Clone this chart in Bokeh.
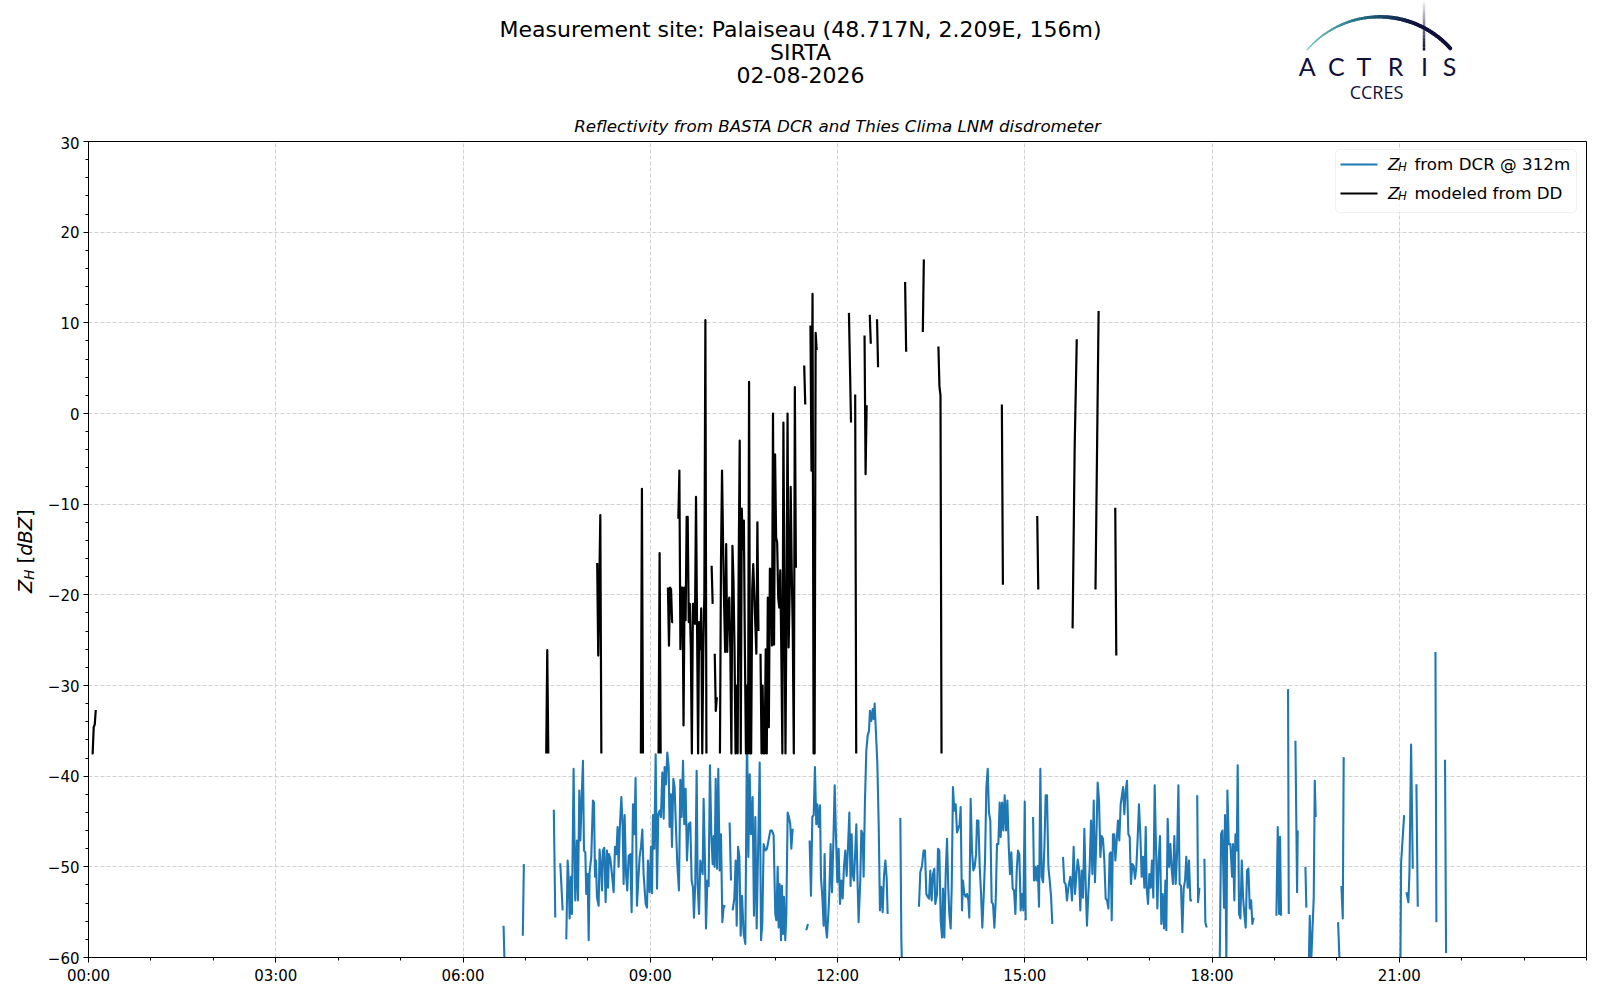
import math
import numpy as np
from bokeh.plotting import figure
from bokeh.layouts import gridplot
from bokeh.models import Range1d, FixedTicker, Label, BoxAnnotation
from bokeh.core.properties import value
from bokeh.embed import file_html
from bokeh.resources import INLINE

NAN = float("nan")

# ---------------- data (minutes since 00:00 UTC, dBZ) ----------------
dcr_minute = [
    399.0, 400.0, NAN,
    417.5, 418.5, NAN,
    447.3, 448.7, NAN,
    453.5, 455.8, NAN,
    459.3, 460.6, 461.5, 462.5, 463.8, 464.7, 466.3, 467.9, 469.5, 470.5,
    471.8, 472.8, 474.4, 475.3, 476.3, 477.6, 478.5, 479.8, 480.8, 481.7,
    483.3, 484.9, 485.9, 486.9, 487.8, 488.8, 490.4, 491.3, 492.6, 493.6,
    494.5, 495.8, 497.1, 498.4, 499.4, 500.3, 501.6, 503.2, 504.8, 506.1,
    507.4, 508.6, 509.6, 510.9, 512.2, 513.5, 514.4, 515.4, 516.7, 517.9,
    519.2, 520.8, 522.1, 523.4, 524.7, 525.9, 527.2, 528.5, 529.8, 531.1,
    532.4, 533.6, 535.6, 536.9, 537.8, 539.4, 540.7, 541.7, 542.6, 543.9,
    545.2, 546.5, 547.7, 549.0, 550.3, 551.6, 552.9, 553.8, 555.1, 556.4,
    557.7, 558.6, 559.9, 560.9, 562.2, 563.4, 564.7, 566.0, 567.6, 568.9,
    570.2, 571.5, 572.7, 574.0, 575.3, 576.9, 578.5, 579.8, 581.1, 582.0,
    583.3, 584.6, 585.6, 586.9, 588.1, 589.1, 590.4, 591.3, 592.6, 593.6,
    594.9, 596.1, 597.4, 598.7, 600.0, 601.0, 601.9, 602.9, 604.2, 605.4,
    606.7, 608.0, 609.3, 610.6, 612.2, NAN,
    616.3, 617.6, NAN,
    619.2, 620.8, 622.1, 623.1, 624.4, 625.7, 626.9, 628.2, 629.8, 631.4,
    633.0, 634.3, 635.6, 636.8, 638.4, 639.7, 641.0, 642.3, 643.6, 645.2,
    646.5, 647.7, 649.0, 650.6, 652.2, 655.4, 657.0, 658.6, 659.2, 660.2,
    661.2, 662.5, 663.4, 664.4, 665.7, 666.6, 667.6, 668.5, 669.8, 670.8,
    672.1, 673.3, 674.6, 675.6, 676.9, NAN,
    690.0, 691.6, NAN,
    693.2, 694.5, 695.8, 697.1, 698.3, 699.6, 700.6, 701.9, 703.2, 704.1,
    705.4, 706.7, 707.6, 708.9, 709.9, 711.2, 712.1, 713.4, 714.7, 716.0,
    717.3, 718.5, 719.8, 721.1, 722.4, 723.7, 725.0, 726.2, 727.5, 728.8,
    730.1, 731.4, 732.6, 733.6, 734.6, 735.8, 737.1, 738.1, 739.4, 740.3,
    741.9, 742.9, 744.2, 745.1, 746.4, 747.7, 749.0, 750.3, 751.2, 752.5,
    753.8, 754.8, 755.7, 757.0, 758.3, 759.6, 760.8, 762.1, 763.4, 764.7,
    766.0, 767.3, 768.2, NAN,
    780.4, 781.4, 782.0, NAN,
    798.3, 799.6, 801.2, 802.8, 804.1, 805.4, 806.7, 808.0, 809.2, 810.5,
    811.8, 813.1, 814.0, 815.7, 816.6, 817.9, 819.2, 820.5, 821.4, 822.7,
    824.0, 825.3, 826.5, 827.5, 828.8, 829.8, 831.0, 832.3, 833.6, 834.9,
    836.2, 837.4, 838.4, 839.7, 840.6, 841.9, 843.2, 844.5, 845.8, 846.7,
    848.0, 849.3, 850.6, 851.9, 853.2, 854.1, 855.4, 856.7, 858.0, 859.2,
    860.5, 861.8, 863.1, 864.4, 865.6, 866.9, 868.2, 869.5, 870.8, 872.1,
    873.3, 874.6, 875.9, 876.9, 878.2, 879.4, 880.7, 882.0, 883.3, 884.6,
    885.8, 887.1, 888.4, 889.7, 891.0, 892.3, 893.5, 894.8, 896.1, 897.4,
    898.7, 900.0, 900.9, NAN,
    908.0, 908.9, 910.2, 911.2, 912.5, 913.7, 915.0, 916.3, 917.6, 918.9,
    920.1, 921.4, 922.7, 924.0, 925.3, 926.5, NAN,
    936.8, 938.0, 939.3, 940.6, 941.9, 943.8, 945.4, 947.0, 948.3, 949.6,
    950.9, 952.1, 953.4, 954.7, 956.0, 957.3, 958.6, 959.8, 961.1, 962.4,
    963.7, 965.0, 966.3, 967.5, 968.8, 970.1, 971.4, 972.7, 973.9, 975.2,
    976.5, 977.8, 979.1, 980.4, 981.6, 982.6, 983.6, 984.8, 986.1, 987.1,
    988.4, 989.6, 990.9, 992.2, 993.2, 994.5, 995.7, 997.0, 998.3, 999.6,
    1000.9, 1002.1, 1003.4, 1004.7, 1006.0, 1007.3, 1008.6, 1009.8, 1011.1, 1012.4,
    1013.7, 1015.0, 1016.3, 1017.2, 1018.5, 1019.8, 1021.1, 1022.3, 1023.6, 1024.9,
    1026.2, 1027.5, 1028.7, 1030.0, 1031.3, 1032.6, 1033.9, 1035.2, 1036.1, 1037.4,
    1038.7, 1040.0, 1041.2, 1042.5, 1043.8, 1045.1, 1046.4, 1047.7, 1048.9, 1050.2,
    1051.5, 1052.8, 1054.1, 1055.3, 1056.6, 1057.9, 1059.2, 1060.8, NAN,
    1065.8, 1066.6, 1067.9, NAN,
    1072.7, 1073.6, 1074.9, NAN,
    1087.4, 1088.7, 1090.0, 1091.6, 1092.5, 1093.8, 1094.8, 1096.1, 1097.7, 1099.3,
    1100.2, 1101.5, 1102.5, 1103.8, 1104.7, 1106.0, 1107.3, 1108.6, 1109.9, 1111.1,
    1112.4, 1113.7, 1115.0, 1116.3, 1117.6, 1118.8, 1120.1, NAN,
    1141.9, 1143.2, 1144.5, 1145.4, 1146.4, NAN,
    1153.1, 1153.8, NAN,
    1160.2, 1161.8, 1162.4, NAN,
    1169.8, 1170.7, NAN,
    1173.0, 1174.0, 1175.2, 1177.8, 1178.8, 1179.7, NAN,
    1201.2, 1202.8, NAN,
    1204.4, 1205.7, 1206.6, NAN,
    1261.1, 1261.8, 1264.7, NAN,
    1266.9, 1268.8, 1269.8, 1271.4, 1273.0, NAN,
    1276.5, 1277.8, NAN,
    1294.8, 1295.7, NAN,
    1304.0, 1305.0,
]
dcr_dbz = [
    -56.5, -61.0, NAN,
    -57.6, -49.7, NAN,
    -43.7, -55.6, NAN,
    -49.6, -54.8, NAN,
    -58.0, -49.3, -51.1, -55.7, -51.1, -55.2, -39.2, -53.7, -47.1, -53.7,
    -41.6, -47.1, -41.4, -38.3, -48.2, -48.4, -53.0, -50.8, -58.1, -50.6,
    -48.9, -42.7, -42.9, -51.1, -49.3, -53.4, -54.3, -48.1, -50.0, -52.6,
    -48.2, -47.9, -53.9, -48.2, -52.3, -48.6, -49.1, -50.8, -52.8, -47.8,
    -48.6, -45.6, -50.0, -45.3, -42.3, -45.6, -51.9, -44.3, -50.8, -52.6,
    -48.8, -48.6, -55.0, -43.1, -46.4, -40.2, -54.3, -51.5, -48.9, -47.8,
    -45.9, -50.8, -54.1, -54.5, -49.3, -52.8, -47.8, -52.9, -44.3, -48.0,
    -37.6, -52.4, -44.2, -43.8, -44.5, -39.6, -44.7, -39.0, -40.9, -37.4,
    -39.0, -45.6, -42.0, -47.8, -40.3, -41.2, -45.6, -49.7, -52.6, -40.4,
    -44.5, -38.3, -45.3, -41.4, -49.3, -45.3, -45.1, -51.5, -52.3, -55.6,
    -51.7, -39.4, -52.1, -55.2, -49.3, -50.0, -50.8, -42.5, -49.3, -56.8,
    -51.5, -52.1, -38.8, -46.4, -49.7, -46.6, -50.0, -40.3, -50.2, -39.2,
    -50.4, -46.4, -56.1, -54.3, -54.4, NAN,
    -45.1, -51.5, NAN,
    -54.8, -53.5, -49.3, -56.5, -47.8, -48.9, -57.6, -53.2, -57.4, -58.5,
    -35.0, -48.9, -39.8, -46.4, -42.3, -55.4, -44.5, -56.8, -48.6, -38.5,
    -58.1, -56.3, -47.5, -48.2, -48.0, -46.0, -46.0, -46.5, -50.0, -55.2,
    -55.9, -50.0, -56.7, -51.9, -58.1, -52.1, -57.4, -53.3, -58.1, -55.2,
    -44.0, -44.5, -45.3, -48.0, -45.8, NAN,
    -57.0, -56.3, NAN,
    -47.1, -53.2, -44.5, -44.3, -39.0, -45.3, -43.1, -45.6, -43.2, -51.1,
    -53.3, -56.5, -48.6, -56.8, -57.8, -55.2, -53.0, -47.5, -52.8, -47.3,
    -41.0, -46.5, -51.7, -48.0, -54.1, -51.5, -53.5, -50.0, -48.2, -51.0,
    -47.8, -44.0, -52.1, -46.4, -50.8, -51.5, -48.2, -45.3, -52.2, -56.1,
    -51.5, -46.0, -46.4, -51.1, -42.7, -37.2, -35.5, -35.0, -32.8, -33.9,
    -32.6, -33.7, -32.0, -35.3, -38.6, -45.3, -54.8, -52.2, -55.0, -51.0,
    -49.3, -51.3, -55.2, NAN,
    -44.6, -58.1, -61.0, NAN,
    -54.4, -50.6, -49.9, -48.2, -48.2, -53.0, -53.3, -53.5, -50.4, -53.7,
    -50.8, -50.2, -54.1, -53.0, -48.0, -48.2, -55.9, -57.8, -52.4, -57.8,
    -50.8, -46.9, -52.4, -55.2, -56.8, -52.2, -41.2, -43.8, -43.1, -46.2,
    -45.8, -45.3, -43.4, -54.8, -51.5, -53.0, -53.3, -53.0, -53.7, -55.6,
    -42.5, -48.2, -50.4, -50.0, -48.6, -44.9, -44.9, -50.0, -53.0, -56.7,
    -53.3, -49.3, -41.2, -39.2, -44.0, -44.9, -53.9, -54.1, -56.7, -53.7,
    -47.5, -47.5, -42.9, -46.7, -42.9, -46.0, -42.1, -46.0, -42.7, -47.7,
    -50.8, -48.4, -52.4, -52.6, -55.2, -50.4, -48.2, -48.6, -54.8, -53.0,
    -54.8, -42.8, -55.9, NAN,
    -44.5, -51.5, -50.0, -51.5, -49.9, -54.4, -39.2, -51.1, -51.7, -47.8,
    -42.1, -42.1, -50.0, -51.5, -53.3, -56.3, NAN,
    -48.9, -51.7, -51.9, -53.7, -52.3, -51.1, -53.7, -47.8, -53.0, -50.9,
    -49.2, -50.2, -54.8, -50.4, -53.4, -45.8, -52.1, -56.5, -53.0, -50.0,
    -44.9, -50.8, -42.7, -51.7, -47.1, -40.7, -42.7, -48.9, -46.6, -46.9,
    -49.3, -53.5, -53.7, -54.6, -48.6, -48.4, -55.9, -46.4, -46.4, -49.3,
    -47.1, -44.9, -47.1, -43.1, -42.3, -41.2, -44.2, -41.6, -40.5, -46.4,
    -46.7, -51.9, -49.7, -49.9, -51.3, -50.0, -46.7, -43.1, -46.4, -51.1,
    -48.9, -52.3, -45.6, -52.3, -54.1, -50.8, -52.3, -49.3, -53.4, -41.0,
    -48.0, -54.6, -49.3, -46.6, -56.3, -53.0, -56.8, -51.5, -57.0, -44.7,
    -50.0, -47.5, -50.2, -51.9, -46.6, -51.9, -48.6, -41.0, -51.9, -52.1,
    -57.2, -52.4, -51.5, -48.9, -52.3, -49.3, -53.7, -53.7, NAN,
    -42.1, -53.9, -52.3, NAN,
    -49.1, -56.1, -56.7, NAN,
    -61.0, -46.4, -46.0, -54.5, -44.3, -60.5, -41.6, -47.5, -47.5, -51.1,
    -47.5, -53.7, -46.4, -48.2, -38.8, -55.2, -55.7, -49.3, -53.4, -55.2,
    -56.7, -50.4, -50.2, -54.6, -53.7, -56.3, -55.6, NAN,
    -55.4, -45.6, -55.2, -46.7, -55.4, NAN,
    -30.4, -55.2, NAN,
    -36.1, -52.8, -46.0, NAN,
    -50.0, -54.5, NAN,
    -61.0, -55.4, -61.0, -53.4, -40.5, -44.5, NAN,
    -56.1, -61.0, NAN,
    -52.1, -55.7, -37.9, NAN,
    -61.0, -49.5, -44.3, NAN,
    -52.8, -53.9, -50.6, -36.5, -50.2, NAN,
    -40.9, -54.4, NAN,
    -26.3, -56.1, NAN,
    -38.2, -59.5,
]

dd_minute = [
    3, 4, 5, 6, 7, NAN,
    440, 441, 442, NAN,
    489, 490, 492, 493, NAN,
    531, 532, 533, NAN,
    548, 549, 550, NAN,
    557, 558, 559, 560, 561, 562, NAN,
    567, 568, 569, 570, 571, 572, 573, 574, 575, 576,
    577, 578, 579, 580, 581, 582, 583, 584, 585, 586,
    587, 588, 589, 590, 591, 592, 593, 594, NAN,
    599, 600, NAN,
    602, 603, 604, NAN,
    607, 608, 609, 610, 611, 612, 613, 614, 615, 616,
    617, 618, 619, 620, 621, 622, 623, 624, 625, 626,
    627, 628, 629, 630, 631, 632, 633, 634, 635, 636,
    637, 638, 639, 640, 641, 642, 643, 644, NAN,
    646, 647, 648, 649, 650, 651, 652, 653, 654, 655,
    656, 657, 658, 659, 660, 661, 662, 663, 664, 665,
    666, 667, 668, 669, 670, 671, 672, 673, 674, 675,
    676, 677, 678, 679, 680, NAN,
    688, 689, NAN,
    694, 695, 696, 697, 698, 699, 700, NAN,
    731, 733, NAN,
    737, 738, NAN,
    746, 747, 748, NAN,
    751, 752, NAN,
    758, 759, NAN,
    785, 786, NAN,
    802, 803, NAN,
    817, 818, 819, 820, NAN,
    878, 879, NAN,
    912, 913, NAN,
    946, 948, 950, NAN,
    968, 971, NAN,
    987, 988,
]
dd_dbz = [
    -37.5, -37.5, -34.6, -34.3, -32.7, NAN,
    -37.5, -26.1, -37.5, NAN,
    -16.5, -26.7, -11.2, -37.5, NAN,
    -37.5, -8.3, -37.5, NAN,
    -37.5, -15.4, -37.5, NAN,
    -19.2, -25.6, -19.2, -19.4, -23.0, -23.0, NAN,
    -11.6, -6.3, -26.0, -19.2, -19.2, -34.4, -19.2, -22.8, -11.4, -11.4,
    -23.0, -21.0, -25.8, -37.5, -21.0, -21.0, -23.2, -9.2, -23.4, -37.5,
    -23.0, -26.0, -21.5, -37.5, -26.3, -20.0, 10.3, -37.5, NAN,
    -16.8, -21.0, NAN,
    -26.5, -32.8, -31.3, NAN,
    -37.5, -16.2, -6.3, -14.2, -21.0, -26.3, -14.4, -26.3, -21.0, -20.3,
    -26.3, -37.5, -14.6, -18.4, -26.0, -37.5, -30.0, -37.5, -17.0, -3.0,
    -37.5, -10.5, -15.0, -11.8, -26.5, -37.5, -30.0, -37.5, 3.5, -37.5,
    -37.5, -19.5, -16.6, -20.0, -23.2, -26.5, -12.0, -24.0, NAN,
    -26.5, -37.5, -30.0, -37.5, -37.5, -26.0, -37.5, -20.3, -34.6, -17.1,
    -17.3, -25.6, 0.0, -25.5, -4.5, -13.7, -14.2, -20.3, -21.4, -17.3,
    -26.3, -37.5, -1.0, -20.0, -37.5, -19.9, 0.0, -25.8, -19.9, -8.1,
    -17.3, -24.0, -37.5, 2.9, -17.0, NAN,
    5.3, 1.0, NAN,
    9.7, -6.3, 13.2, -37.5, -37.5, 8.9, 7.0, NAN,
    11.1, -1.0, NAN,
    2.1, -37.5, NAN,
    8.6, -6.7, 0.9, NAN,
    10.9, 7.7, NAN,
    10.4, 5.1, NAN,
    14.5, 6.8, NAN,
    9.0, 17.0, NAN,
    7.4, 3.0, 2.0, -37.5, NAN,
    1.0, -18.9, NAN,
    -11.3, -19.4, NAN,
    -23.7, -3.7, 8.2, NAN,
    -19.4, 11.3, NAN,
    -10.4, -26.7,
]

x_tick_hours = [0, 3, 6, 9, 12, 15, 18, 21]
x_tick_labels = ["00:00", "03:00", "06:00", "09:00", "12:00", "15:00", "18:00", "21:00"]
x_minor_hours = list(range(0, 25))
y_tick_values = [-60, -50, -40, -30, -20, -10, 0, 10, 20, 30]
y_minor_values = list(range(-60, 31, 2))

title_lines = ["Measurement site: Palaiseau (48.717N, 2.209E, 156m)", "SIRTA", "02-08-2026"]
subtitle = "Reflectivity from BASTA DCR and Thies Clima LNM disdrometer"
legend_rest = ["from DCR @ 312m", "modeled from DD"]

BLUE = "#1f77b4"
NAVY = "#10103a"
FONT = "DejaVu Sans"

# ---------------- page geometry (page origin = top-left of the page) ----------------
PAGE_W, PAGE_H = 1600, 1000
YLAB_W = 40                      # column holding the y-axis title
HEAD_H = 136                     # row holding titles and logo
TOP_PAD = 5                      # room above the frame inside the main plot
FL, FR, FT, FB = 88, 1586, 141, 957
MAIN_W = PAGE_W - YLAB_W
MAIN_H = PAGE_H - HEAD_H
BORDER_L = FL - YLAB_W
BORDER_R = PAGE_W - FR
BORDER_B = PAGE_H - FB


def dx(px):
    return (px - FL) * 24.0 / (FR - FL)


def dy(py):
    return 30.0 - (py - FT) * 90.0 / (FB - FT)


# ---------------- header (titles + logo), data units = page pixels ----------------
h = figure(width=MAIN_W, height=HEAD_H, x_range=Range1d(FL, FR), y_range=Range1d(HEAD_H, 0),
           output_backend="svg", toolbar_location=None,
           min_border_left=BORDER_L, min_border_right=BORDER_R, min_border_top=0, min_border_bottom=0,
           x_axis_type=None, y_axis_type=None)
h.outline_line_color = None
h.background_fill_color = "white"
h.border_fill_color = "white"

h.text(x=[800, 800, 800], y=[29.0, 51.5, 74.0], text=title_lines,
       text_font=value(FONT), text_font_size=value("22px"), text_align="center",
       text_baseline="alphabetic", text_color="black")
h.text(x=[837], y=[125.0], text=[subtitle], text_font=value(FONT),
       text_font_style="italic", text_font_size=value("16.7px"), text_align="center",
       text_baseline="alphabetic", text_color="black")

# logo arc (teal -> navy)
cx, cy, R = 1378.9, 111.8, 95.5
th = np.linspace(math.radians(139.2), math.radians(42.0), 61)
arc_x = cx + R * np.cos(th)
arc_y = cy - R * np.sin(th)
stops = [(0.0, (120, 200, 196)), (0.3, (45, 135, 150)), (0.55, (25, 65, 100)),
         (0.75, (16, 16, 58)), (1.0, (16, 16, 58))]


def interp_color(f):
    for (f0, c0), (f1, c1) in zip(stops[:-1], stops[1:]):
        if f <= f1:
            w = (f - f0) / (f1 - f0)
            c = [int(round(a + (b - a) * w)) for a, b in zip(c0, c1)]
            return "#%02x%02x%02x" % tuple(c)
    return "#%02x%02x%02x" % stops[-1][1]


fr = np.linspace(0, 1, 60)
arc_colors = [interp_color(f) for f in fr]
arc_widths = list(1.2 + 2.6 * np.clip(fr / 0.6, 0, 1))
h.segment(x0=arc_x[:-1], y0=arc_y[:-1], x1=arc_x[1:], y1=arc_y[1:],
          line_color=arc_colors, line_width=arc_widths, line_cap="round")

bar_y = np.linspace(2, 50, 16)
bar_alpha = list(np.linspace(0.1, 1.0, 15))
h.segment(x0=[1423.5] * 15, y0=bar_y[:-1], x1=[1423.5] * 15, y1=bar_y[1:],
          line_color=NAVY, line_alpha=bar_alpha, line_width=2.5)

h.text(x=[1306.7, 1335.8, 1363.3, 1395.0, 1424.0, 1449.0], y=[65.5] * 6,
       text=["A", "C", "T", "R", "I", "S"], text_font=value("Lato"),
       text_font_size=value("25px"), text_align="center", text_baseline="alphabetic",
       text_color=NAVY)
h.text(x=[1376], y=[91.0], text=["CCRES"], text_font=value("Open Sans"),
       text_font_size=value("18px"), text_align="center", text_baseline="alphabetic",
       text_color=NAVY)

# ---------------- y-axis title column (x = page px, y = PAGE_H - page px) ----------------
yfig = figure(width=YLAB_W, height=MAIN_H, x_range=Range1d(0, YLAB_W),
              y_range=Range1d(PAGE_H - FB, PAGE_H - FT), output_backend="svg",
              toolbar_location=None, min_border_left=0, min_border_right=0,
              min_border_top=TOP_PAD, min_border_bottom=BORDER_B,
              x_axis_type=None, y_axis_type=None)
yfig.outline_line_color = None
yfig.background_fill_color = "white"
yfig.border_fill_color = "white"
# one glyph per character: (char, baseline x, start y on page, style, size)
ylab_parts = [
    ("Z", 24.5, 592.6, "italic", "19.4px"),
    ("H", 28.5, 579.3, "italic", "13.6px"),
    ("[", 24.5, 562.9, "normal", "19.4px"),
    ("d", 24.5, 555.3, "italic", "19.4px"),
    ("B", 24.5, 543.0, "italic", "19.4px"),
    ("Z", 24.5, 529.7, "italic", "19.4px"),
    ("]", 24.5, 516.4, "normal", "19.4px"),
]
for txt, px, py, style, size in ylab_parts:
    yfig.text(x=[px], y=[PAGE_H - py], text=[txt], angle=math.pi / 2,
              text_font=value(FONT), text_font_style=style, text_font_size=value(size),
              text_align="left", text_baseline="alphabetic", text_color="black")

# ---------------- main plot ----------------
p = figure(width=MAIN_W, height=MAIN_H, x_range=Range1d(0, 24), y_range=Range1d(-60, 30),
           output_backend="svg", toolbar_location=None,
           min_border_left=BORDER_L, min_border_right=BORDER_R,
           min_border_top=TOP_PAD, min_border_bottom=BORDER_B)
p.background_fill_color = "white"
p.border_fill_color = "white"
p.outline_line_color = "black"
p.outline_line_width = 1

p.line(np.array(dcr_minute, dtype=float) / 60.0, np.array(dcr_dbz, dtype=float),
       line_color=BLUE, line_width=2.1, line_join="round")
p.line(np.array(dd_minute, dtype=float) / 60.0, np.array(dd_dbz, dtype=float),
       line_color="black", line_width=2.2, line_join="round")

p.xaxis.ticker = FixedTicker(ticks=x_tick_hours, minor_ticks=x_minor_hours)
p.xaxis.major_label_overrides = {t: lab for t, lab in zip(x_tick_hours, x_tick_labels)}
p.yaxis.ticker = FixedTicker(ticks=y_tick_values, minor_ticks=y_minor_values)
p.yaxis.major_label_overrides = {v: (("\u2212" + str(-v)) if v < 0 else str(v)) for v in y_tick_values}

for ax in (p.xaxis, p.yaxis):
    ax.axis_line_color = "black"
    ax.major_tick_line_color = "black"
    ax.minor_tick_line_color = "black"
    ax.major_tick_out = 5
    ax.major_tick_in = 0
    ax.minor_tick_out = 3
    ax.minor_tick_in = 0
    ax.major_label_text_font = FONT
    ax.major_label_text_font_size = "15px"
    ax.major_label_text_color = "black"
    ax.major_label_standoff = 4

p.grid.grid_line_color = "#d0d0d0"
p.grid.grid_line_dash = "4 2"
p.grid.grid_line_width = 1

# legend (drawn by hand so the subscript can be shown)
p.add_layout(BoxAnnotation(left=dx(1335), right=dx(1576), top=dy(149), bottom=dy(212),
                           fill_color="white", fill_alpha=0.8, line_color="#cccccc",
                           line_width=1, border_radius=4))
for i, (col, rest) in enumerate(zip([BLUE, "black"], legend_rest)):
    yc = 164 + 29 * i
    p.line([dx(1340), dx(1377)], [dy(yc), dy(yc)], line_color=col, line_width=2, level="overlay")
    base = yc - 0.9
    p.add_layout(Label(x=dx(1387.5), y=dy(base), text="Z", text_font=FONT, text_font_style="italic",
                       text_font_size="16.7px", text_baseline="alphabetic", text_color="black"))
    p.add_layout(Label(x=dx(1397.5), y=dy(base + 3.5), text="H", text_font=FONT, text_font_style="italic",
                       text_font_size="11.7px", text_baseline="alphabetic", text_color="black"))
    p.add_layout(Label(x=dx(1414), y=dy(base), text=rest, text_font=FONT,
                       text_font_size="16.7px", text_baseline="alphabetic", text_color="black"))

grid = gridplot([[None, h], [yfig, p]], toolbar_location=None)
open("out.html", "w").write(file_html(grid, INLINE, title="Reflectivity Palaiseau"))
